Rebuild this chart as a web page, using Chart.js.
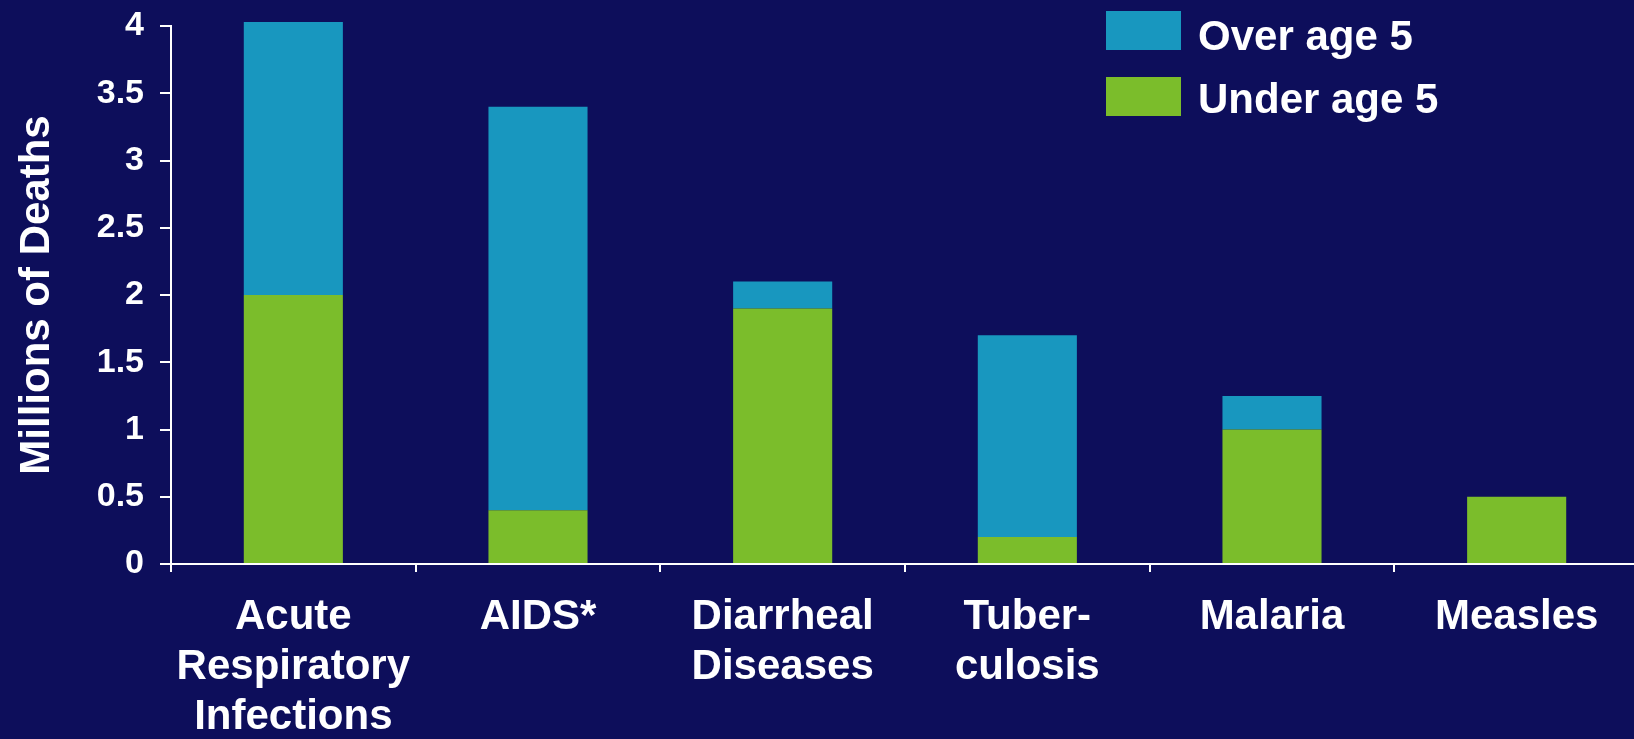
<!DOCTYPE html>
<html>
<head>
<meta charset="utf-8">
<script src="https://cdn.jsdelivr.net/npm/chart.js@4.4.1/dist/chart.umd.min.js"></script>
<style>
  html, body { margin: 0; padding: 0; background: #0d0e5b; overflow: hidden; }
  #wrap { width: 1640px; height: 739px; position: relative; }
</style>
</head>
<body>
<div id="wrap"><canvas id="c"></canvas></div>
<script>
const categories = [["Acute", "Respiratory", "Infections"], "AIDS*", ["Diarrheal", "Diseases"], ["Tuber-", "culosis"], "Malaria", "Measles"];
const underAge5 = [2.0, 0.4, 1.9, 0.2, 1.0, 0.5];
const overAge5 = [2.03, 3.0, 0.2, 1.5, 0.25, 0];
const seriesLabels = ["Under age 5", "Over age 5"];
const yTitle = "Millions of Deaths";

const FONT = "'Liberation Sans', Arial, sans-serif";
const WHITE = "#ffffff";

const customLegend = {
  id: 'customLegend',
  afterDraw(chart) {
    const ctx = chart.ctx;
    const ds = chart.data.datasets;
    const order = [1, 0];
    const rows = [{ boxY: 11, textY: 50 }, { boxY: 77, textY: 113 }];
    ctx.save();
    order.forEach((di, i) => {
      ctx.fillStyle = ds[di].backgroundColor;
      ctx.fillRect(1106, rows[i].boxY, 75, 39);
      ctx.fillStyle = WHITE;
      ctx.font = "bold 42px " + FONT;
      ctx.textBaseline = 'alphabetic';
      ctx.textAlign = 'left';
      ctx.fillText(ds[di].label, 1198, rows[i].textY);
    });
    ctx.restore();
  }
};

new Chart(document.getElementById('c'), {
  type: 'bar',
  data: {
    labels: categories,
    datasets: [
      { label: seriesLabels[0], data: underAge5, backgroundColor: '#7bbd2b', borderWidth: 0, clip: false,
        categoryPercentage: 1.0, barPercentage: 0.405 },
      { label: seriesLabels[1], data: overAge5, backgroundColor: '#1897bf', borderWidth: 0, clip: false,
        categoryPercentage: 1.0, barPercentage: 0.405 }
    ]
  },
  options: {
    responsive: true,
    maintainAspectRatio: false,
    animation: false,
    layout: { padding: { top: 26, right: 1, left: 0, bottom: 0 } },
    plugins: {
      legend: { display: false },
      tooltip: { enabled: false }
    },
    scales: {
      x: {
        stacked: true,
        offset: true,
        grid: { display: true, drawOnChartArea: false, drawTicks: true, tickLength: 8, color: WHITE, lineWidth: 2, offset: true },
        border: { display: true, color: WHITE, width: 2 },
        ticks: {
          color: WHITE, autoSkip: false, maxRotation: 0, minRotation: 0, padding: 20,
          font: { family: FONT, size: 42, weight: 'bold', lineHeight: 1.19 }
        },
        afterFit(scale) { scale.height = 175; scale.paddingLeft = 0; scale.paddingRight = 0; }
      },
      y: {
        stacked: true,
        min: 0,
        max: 4,
        grid: { display: true, drawOnChartArea: false, drawTicks: true, tickLength: 11, color: WHITE, lineWidth: 2 },
        border: { display: true, color: WHITE, width: 2 },
        ticks: {
          stepSize: 0.5, color: WHITE, padding: 16,
          font: { family: FONT, size: 34, weight: 'bold' },
          callback: (v) => String(v)
        },
        title: {
          display: true, text: yTitle, color: WHITE,
          font: { family: FONT, size: 42, weight: 'bold', lineHeight: 1.2 },
          padding: { top: 12, bottom: 10 }
        },
        afterFit(scale) { scale.width = 171; scale.paddingTop = 0; scale.paddingBottom = 0; }
      }
    }
  },
  plugins: [customLegend]
});
</script>
</body>
</html>
